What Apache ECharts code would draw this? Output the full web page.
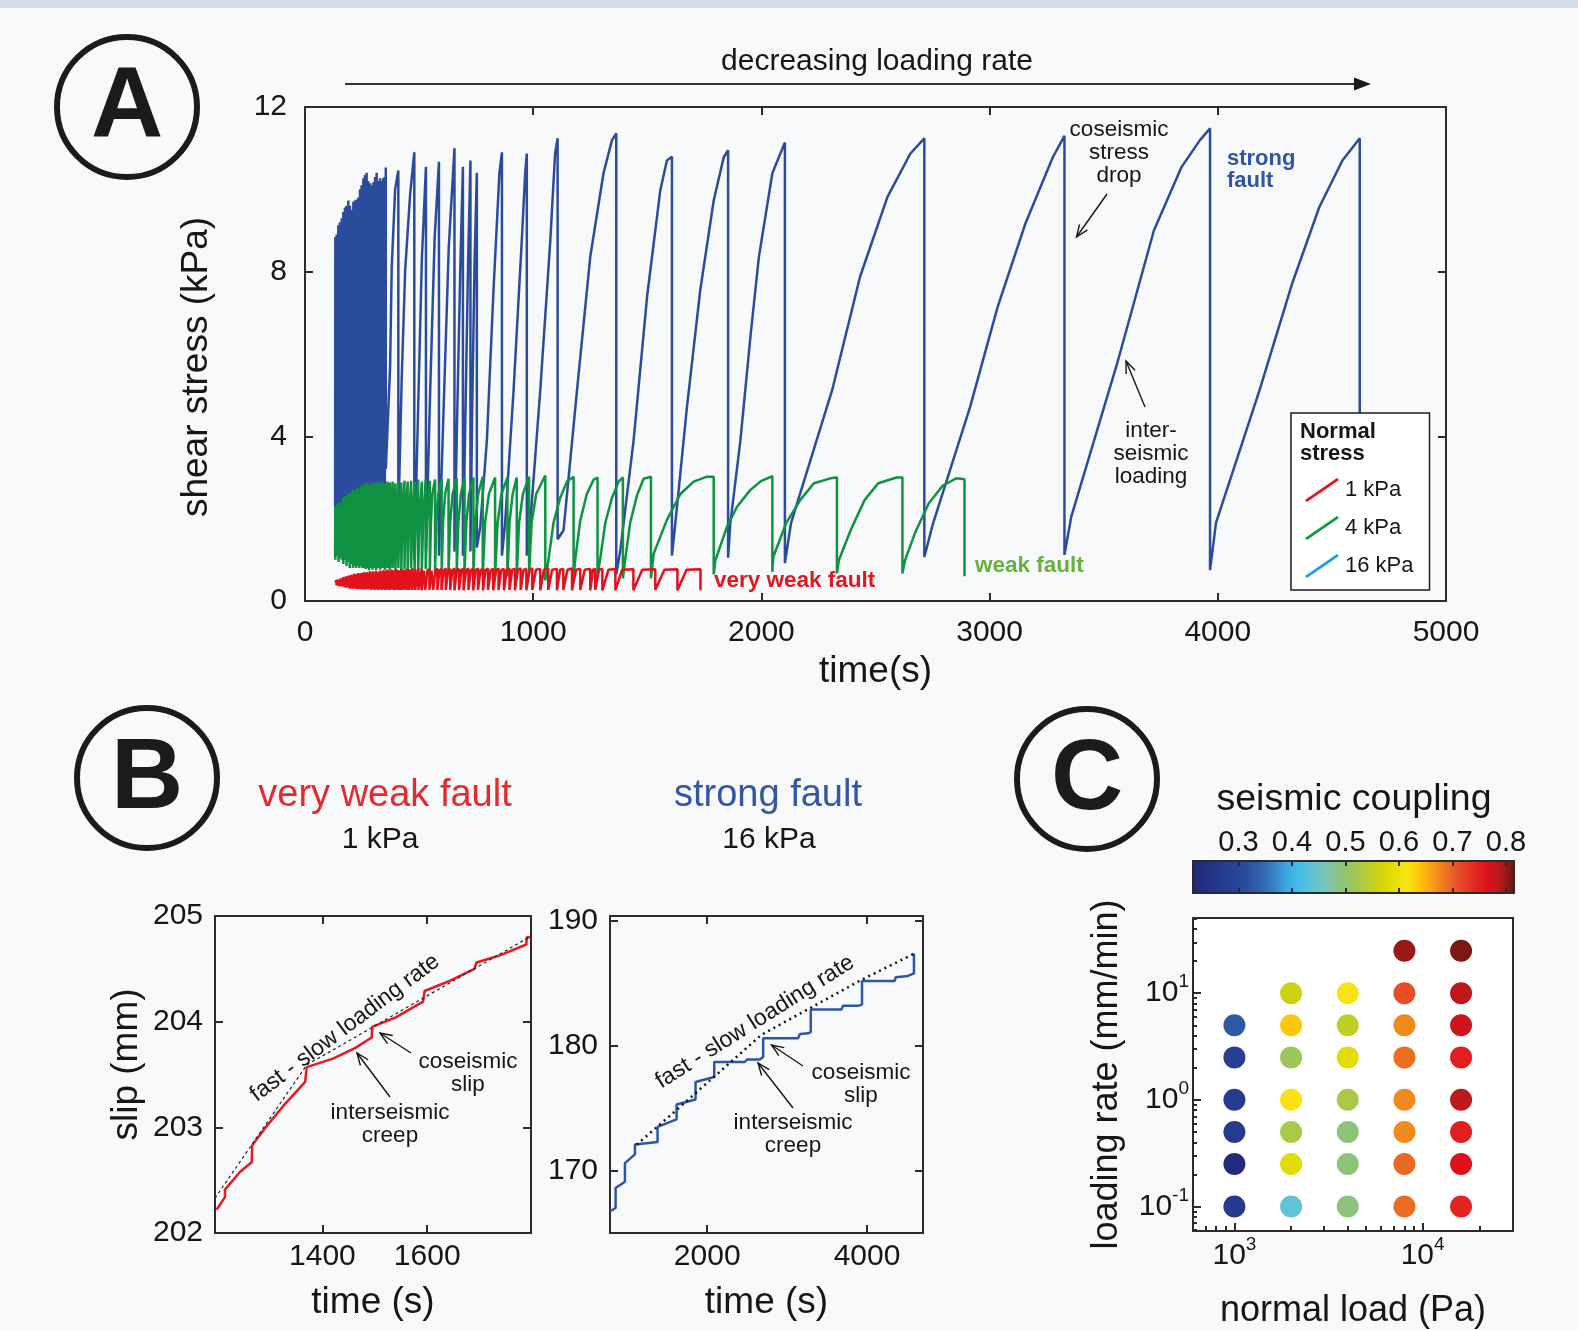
<!DOCTYPE html>
<html>
<head>
<meta charset="utf-8">
<title>Shear stress, slip and seismic coupling</title>
<script src="https://cdn.jsdelivr.net/npm/echarts@6.0.0/dist/echarts.min.js"></script>
<style>
  html, body { margin: 0; padding: 0; background: #f7f9fb; }
  #chart { width: 1578px; height: 1330px; }
</style>
</head>
<body>
<div id="chart"></div>
<script>
// ---- panel A: shear stress (kPa) vs time (s), one trace per normal stress ----
const stress16kPa = [
  [132,2.3],[133,8.84],[133,1.6],[139,8.9],[139,2.0],[146,9.13],[146,1.4],[153,9.2],[153,2.1],[161,9.3],[161,1.5],
  [168,9.45],[168,2.2],[175,9.56],[175,1.6],[182,9.6],[182,2.0],[190,9.73],[190,1.3],[197,9.6],[197,2.2],[205,9.5],
  [205,1.5],[212,9.7],[212,2.1],[219,9.73],[219,1.4],[226,9.75],[226,2.0],[234,9.8],[234,1.5],[241,10.0],[241,2.2],
  [248,10.1],[248,1.6],[256,10.27],[256,2.0],[263,10.35],[263,1.5],[270,10.4],[270,2.3],[277,10.2],[277,1.6],
  [285,10.15],[285,2.1],[292,10.1],[292,1.5],[300,10.17],[300,2.0],[307,10.3],[307,1.4],[314,10.4],[314,2.2],
  [321,10.2],[321,1.6],[329,10.27],[329,2.0],[336,10.2],[336,1.5],[343,10.27],[343,2.1],[349,10.3],[349,1.7],
  [354,10.53],[354,3.2],[373,5.7],[380,8.1],[395,10.0],[409,10.46],
  [409,2.0],[424,5.45],[439,8.04],[461,9.9],[479,10.9],
  [479,1.0],[495,4.5],[512,8.3],[530,10.55],
  [530,1.2],[548,5.0],[568,8.8],[587,10.67],
  [587,1.1],[607,4.6],[630,8.6],[655,11.0],
  [655,1.2],[668,4.8],[681,8.2],[692,10.55],
  [692,1.1],[703,4.5],[715,8.3],[725,10.7],
  [725,1.2],[733,4.8],[743,8.2],[753,10.4],
  [753,1.3],[768,1.8],[797,3.9],[826,7.55],[852,10.4],[863,10.9],
  [863,1.1],[877,1.9],[914,5.12],[950,8.76],[965,10.4],[972,10.87],
  [972,1.1],[987,1.9],[1031,5.12],[1075,8.76],[1096,10.87],[1107,11.24],
  [1107,1.5],[1133,1.72],[1192,5.12],[1250,8.36],[1308,10.39],[1345,11.19],[1364,11.36],
  [1364,0.65],[1382,1.24],[1440,3.9],[1499,7.39],[1557,9.98],[1586,10.7],[1608,10.79],
  [1608,1.1],[1623,1.9],[1674,4.72],[1732,7.55],[1791,9.73],[1835,10.78],[1854,10.95],
  [1854,1.05],[1864,1.9],[1908,3.9],[1952,6.42],[1989,8.36],[2048,10.39],[2103,11.14],
  [2103,0.92],[2130,1.9],[2310,5.12],[2432,7.87],[2552,9.81],[2653,10.87],[2714,11.24],
  [2714,1.07],[2753,1.9],[2915,4.72],[3035,7.14],[3157,9.17],[3277,10.78],[3328,11.3],
  [3328,1.12],[3358,2.05],[3559,5.77],[3720,9.0],[3841,10.54],[3921,11.19],[3966,11.48],
  [3966,0.75],[3992,1.9],[4183,5.12],[4325,7.7],[4445,9.57],[4546,10.7],[4622,11.24],
  [4622,1.0]
];
const stress4kPa = [
  [132,1.1],[133,2.3],[133,1.0],[140,2.35],[140,1.1],[147,2.3],[147,0.95],[154,2.4],[154,1.05],[161,2.35],[161,1.0],
  [168,2.5],[168,0.9],[175,2.55],[175,1.0],[182,2.5],[182,0.85],[189,2.6],[189,0.95],[196,2.62],[196,0.8],[203,2.6],
  [203,0.9],[210,2.7],[210,0.8],[217,2.65],[217,0.85],[224,2.7],[224,0.8],[231,2.75],[231,0.85],[238,2.7],[238,0.8],
  [245,2.8],[245,0.85],[252,2.75],[252,0.8],[259,2.85],[259,0.8],[266,2.8],[266,0.78],[273,2.86],[273,0.8],
  [280,2.8],[280,0.75],[288,2.86],[288,0.8],[296,2.82],[296,0.76],[304,2.88],[304,0.8],[312,2.85],[312,0.75],
  [320,2.9],[320,0.8],[330,2.86],[330,0.76],[340,2.9],[340,0.8],[350,2.85],[350,0.75],[361,2.9],[361,0.8],
  [372,2.88],[372,0.75],[384,2.9],[384,0.8],[396,2.86],[396,0.75],[409,2.92],[409,0.8],[414,2.0],[422,2.88],
  [422,0.75],[427,2.0],[436,2.92],[436,0.78],[441,2.0],[450,2.9],[450,0.75],[456,2.0],[465,2.92],[465,0.8],
  [471,2.0],[480,2.9],[480,0.75],[486,2.0],[496,2.95],[496,0.78],[502,2.0],[512,2.9],[512,0.76],[518,2.0],
  [529,2.95],[529,0.78],[535,2.0],[547,2.92],
  [547,0.75],[552,1.9],[558,2.6],[570,2.95],
  [570,0.7],[576,1.9],[584,2.6],[599,2.95],
  [599,0.72],[605,1.9],[614,2.6],[629,2.97],
  [629,0.7],[636,1.9],[647,2.6],[665,2.98],
  [665,0.72],[672,1.9],[683,2.6],[699,3.0],
  [699,0.7],[707,1.9],[719,2.6],[738,3.0],
  [738,0.65],[746,1.9],[759,2.6],[779,3.02],
  [779,0.62],[789,1.9],[806,2.6],[833,3.0],
  [833,0.62],[844,1.9],[861,2.6],[887,3.0],
  [887,0.6],[896,1.9],[910,2.6],[928,3.0],
  [928,0.62],[938,1.9],[955,2.6],[982,3.02],
  [982,0.65],[993,1.9],[1013,2.6],[1053,3.05],
  [1053,0.5],[1067,1.0],[1089,1.9],[1118,2.5],[1148,2.9],[1177,3.02],
  [1177,0.56],[1184,1.0],[1206,1.95],[1235,2.6],[1265,2.95],[1282,3.0],
  [1282,0.6],[1293,1.0],[1316,1.9],[1345,2.5],[1374,2.9],[1393,3.0],
  [1393,0.55],[1403,1.0],[1425,1.9],[1455,2.57],[1484,2.97],[1516,3.02],
  [1516,0.55],[1528,1.15],[1586,1.97],[1645,2.6],[1703,2.9],[1762,3.02],[1791,3.02],
  [1791,0.65],[1798,0.98],[1849,1.8],[1893,2.29],[1952,2.7],[2000,2.92],[2048,3.03],
  [2048,0.71],[2052,1.07],[2109,1.9],[2170,2.45],[2230,2.86],[2310,2.99],[2331,3.0],
  [2331,0.67],[2340,1.0],[2391,1.72],[2452,2.45],[2512,2.86],[2592,3.0],[2618,3.0],
  [2618,0.67],[2630,1.0],[2673,1.65],[2733,2.37],[2794,2.8],[2854,2.98],[2890,2.96],
  [2890,0.6]
];
const stress1kPa = [
  [132,0.45],[138,0.5],[138,0.38],[144,0.52],[144,0.4],[150,0.5],[150,0.36],[156,0.55],[156,0.4],[162,0.52],
  [162,0.35],[168,0.58],[168,0.4],[174,0.55],[174,0.33],[180,0.6],[180,0.36],[186,0.58],[186,0.32],[192,0.62],
  [192,0.35],[198,0.6],[198,0.3],[204,0.64],[204,0.33],[210,0.62],[210,0.3],[216,0.66],[216,0.32],[222,0.64],
  [222,0.3],[228,0.66],[228,0.29],[234,0.68],[234,0.31],[240,0.65],[240,0.29],[246,0.68],[246,0.3],[252,0.66],
  [252,0.28],[258,0.7],[258,0.3],[264,0.67],[264,0.28],[270,0.7],[270,0.3],[277,0.68],[277,0.28],[284,0.72],
  [284,0.3],[291,0.7],[291,0.27],[298,0.72],[298,0.3],[305,0.7],[305,0.27],[312,0.73],[312,0.29],[320,0.7],
  [320,0.27],[328,0.74],[328,0.28],[336,0.72],[336,0.27],[344,0.75],[344,0.28],[352,0.73],[352,0.27],[361,0.76],
  [361,0.28],[370,0.74],[370,0.27],[380,0.76],[380,0.28],[390,0.75],[390,0.27],[400,0.77],[400,0.28],[411,0.75],
  [411,0.27],[422,0.78],[422,0.27],[433,0.76],[433,0.28],[445,0.78],[445,0.27],[457,0.77],[457,0.27],[470,0.8],
  [470,0.27],[483,0.78],[483,0.27],[497,0.8],[497,0.27],[511,0.78],
  [511,0.26],[520,0.74],[527,0.78],[527,0.27],[536,0.74],[545,0.78],[545,0.27],[554,0.74],[562,0.78],
  [562,0.27],[571,0.74],[580,0.79],[580,0.27],[589,0.74],[598,0.78],[598,0.27],[608,0.74],[617,0.79],
  [617,0.27],[627,0.75],[636,0.78],[636,0.27],[646,0.75],[655,0.79],[655,0.26],[665,0.75],[675,0.78],
  [675,0.27],[685,0.75],[695,0.79],[695,0.26],[706,0.75],[716,0.79],[716,0.27],[727,0.75],[737,0.78],
  [737,0.26],[748,0.75],[758,0.79],[758,0.27],[769,0.75],[780,0.78],[780,0.26],[791,0.75],[802,0.79],
  [802,0.27],[814,0.75],[825,0.78],[825,0.26],[837,0.75],[848,0.79],[848,0.27],[860,0.75],[872,0.78],
  [872,0.26],[884,0.76],[896,0.79],[896,0.27],[908,0.76],[920,0.78],[920,0.26],[933,0.76],[945,0.79],
  [945,0.27],[958,0.76],[970,0.78],[970,0.26],[984,0.76],[996,0.79],[996,0.27],[1012,0.76],[1031,0.78],
  [1031,0.26],[1047,0.76],[1066,0.79],[1066,0.27],[1083,0.76],[1104,0.78],[1104,0.26],[1118,0.76],[1132,0.78],
  [1132,0.27],[1150,0.76],[1170,0.79],[1170,0.26],[1188,0.76],[1206,0.78],[1206,0.27],[1226,0.76],[1250,0.78],
  [1250,0.26],[1262,0.76],[1272,0.78],[1272,0.27],[1288,0.76],[1303,0.78],[1303,0.26],[1330,0.76],[1360,0.78],
  [1360,0.26],[1390,0.76],[1439,0.77],[1439,0.26],[1478,0.76],[1535,0.77],[1535,0.27],[1575,0.76],[1632,0.77],
  [1632,0.26],[1672,0.76],[1733,0.77],[1733,0.26]
];

// ---- panel B: slip (mm) vs time (s) and the fast/slow loading-rate guide ----
const slip1kPa = [
  [1198,202.22],[1214,202.34],[1214,202.41],[1243,202.58],[1265,202.67],[1266,202.83],[1290,202.99],
  [1325,203.2],[1367,203.43],[1370,203.57],[1420,203.65],[1462,203.75],[1494,203.85],[1495,203.95],
  [1540,204.04],[1592,204.19],[1595,204.29],[1640,204.38],[1690,204.5],[1694,204.56],[1740,204.63],
  [1789,204.73],[1790,204.8],[1797,204.8]
];
const rate1kPa = [[1195,202.33],[1370,203.59],[1795,204.8]];
const slip16kPa = [
  [784,166.74],[854,167.0],[854,168.6],[971,169.1],[971,170.6],[1096,171.3],[1096,172.1],[1379,172.3],
  [1379,173.5],[1617,174.1],[1617,175.3],[1854,175.7],[1854,177.1],[2088,177.5],[2088,178.7],[2471,178.7],
  [2500,178.9],[2658,178.9],[2700,179.1],[2700,180.6],[3137,180.6],[3160,180.95],[3262,181.0],[3296,181.1],
  [3296,182.9],[3679,182.9],[3700,183.2],[3887,183.2],[3937,183.3],[3937,185.2],[4346,185.2],[4360,185.5],
  [4512,185.6],[4587,185.8],[4587,187.4]
];
const rate16kPa = [[1117,172.08],[1596,174.74],[2679,180.88],[3929,185.28],[4596,187.4]];

// ---- panel C: seismic coupling by normal load (Pa) and loading rate (mm/min) ----
const normalLoads = [1000, 2000, 4000, 8000, 16000];
const loadingRates = [25, 10, 5, 2.5, 1, 0.5, 0.25, 0.1];
const coupling = [
  [null, null, null, 0.80, 0.81],
  [null, 0.56, 0.612, 0.712, 0.783],
  [0.33, 0.637, 0.55, 0.675, 0.775],
  [0.28, 0.515, 0.587, 0.69, 0.752],
  [0.27, 0.618, 0.528, 0.675, 0.783],
  [0.27, 0.527, 0.49, 0.675, 0.752],
  [0.225, 0.585, 0.49, 0.695, 0.765],
  [0.267, 0.438, 0.49, 0.692, 0.745]
];
const couplingTicks = [0.3, 0.4, 0.5, 0.6, 0.7, 0.8];
const loadTicks = [3, 4];        // log10(Pa)
const rateTicks = [-1, 0, 1];    // log10(mm/min)
const loadMinor = [700, 800, 900, 2000, 3000, 4000, 5000, 6000, 7000, 8000, 9000, 20000, 30000];
const rateMinor = [0.06, 0.07, 0.08, 0.09, 0.2, 0.3, 0.4, 0.5, 0.6, 0.7, 0.8, 0.9, 2, 3, 4, 5, 6, 7, 8, 9, 20, 30, 40, 50];

const FONT = 'Liberation Sans';
const INK = '#161616';
const AXIS = '#2b2b2b';
const RED = '#e3111c', GREEN = '#0f9242', BLUE = '#2b4c9c';

const couplingPoints = [];
loadingRates.forEach((r, i) => {
  normalLoads.forEach((l, j) => {
    if (coupling[i][j] != null) couplingPoints.push([Math.log10(l), Math.log10(r), coupling[i][j]]);
  });
});

function axis(gridIndex, position, min, max, o) {
  o = o || {};
  const a = {
    type: 'value', gridIndex, position, min, max, z: o.z || 0,
    axisLine: {show: o.line !== false, onZero: false, lineStyle: {color: AXIS, width: 2}},
    axisTick: {show: o.ticks !== false, inside: true, length: o.tickLen || 8, lineStyle: {color: AXIS, width: 2}},
    axisLabel: {show: false},
    splitLine: {show: false}
  };
  if (o.interval) a.interval = o.interval;
  if (o.tickValues) a.axisTick.customValues = o.tickValues;
  if (o.labels) {
    a.axisLabel = {show: true, color: INK, fontFamily: FONT, fontSize: o.fontSize || 30, margin: o.margin,
      formatter: o.formatter || (v => String(v))};
    if (o.labelValues) a.axisLabel.customValues = o.labelValues;
    if (o.rich) a.axisLabel.rich = o.rich;
  }
  if (o.name) {
    a.name = o.name; a.nameLocation = 'middle'; a.nameGap = o.nameGap;
    a.nameTextStyle = {fontSize: o.nameSize || 37, color: INK, fontFamily: FONT};
    if (o.namePad) a.nameTextStyle.padding = o.namePad;
  }
  return a;
}

const pow10 = v => '10{s|' + String(v) + '}';
const supRich = {s: {fontSize: 19, fontFamily: FONT, color: INK, padding: [0, 0, 22, 0]}};

function text(x, y, str, o) {
  return {type: 'text', x, y, z: 100, style: Object.assign({
    text: str, fill: INK, fontFamily: FONT, fontSize: 22.5, align: 'center', verticalAlign: 'middle', lineHeight: 23
  }, o || {})};
}
function pointer(x1, y1, x2, y2) {
  const a = Math.atan2(y2 - y1, x2 - x1), L = 13, w = 0.38;
  return [
    {type: 'line', z: 100, shape: {x1, y1, x2, y2}, style: {stroke: INK, lineWidth: 1.4}},
    {type: 'polyline', z: 100, shape: {points: [
      [x2 - L * Math.cos(a - w), y2 - L * Math.sin(a - w)], [x2, y2],
      [x2 - L * Math.cos(a + w), y2 - L * Math.sin(a + w)]]},
      style: {stroke: INK, fill: null, lineWidth: 1.4}}
  ];
}
function badge(cx, cy, letter) {
  return [
    {type: 'circle', z: 100, shape: {cx, cy, r: 70}, style: {fill: 'transparent', stroke: '#1b1b1b', lineWidth: 6}},
    text(cx, cy + 2, letter, {fontSize: 100, fontWeight: 'bold', fill: '#1b1b1b', lineHeight: 100})
  ];
}

const graphics = [
  {type: 'rect', z: 100, shape: {x: 0, y: 0, width: 1578, height: 8}, style: {fill: '#d6dde8'}},
  ...badge(127, 107, 'A'), ...badge(147, 778, 'B'), ...badge(1087, 779, 'C'),
  {type: 'line', z: 100, shape: {x1: 345, y1: 84, x2: 1358, y2: 84}, style: {stroke: '#333', lineWidth: 2}},
  {type: 'polygon', z: 100, shape: {points: [[1354, 77.5], [1371, 84], [1354, 90.5]]}, style: {fill: '#1a1a1a'}},
  text(877, 62, 'decreasing loading rate', {fontSize: 30, lineHeight: 30}),
  text(1119, 153, 'coseismic\nstress\ndrop'),
  ...pointer(1107, 194, 1076.5, 237),
  text(1151, 454, 'inter-\nseismic\nloading'),
  ...pointer(1145, 407, 1126, 361),
  text(1227, 170, 'strong\nfault', {align: 'left', fontWeight: 'bold', fill: '#2f55a4', fontSize: 22, lineHeight: 22}),
  text(975, 566, 'weak fault', {align: 'left', fontWeight: 'bold', fill: '#67b23c', fontSize: 22.5}),
  text(714, 581, 'very weak fault', {align: 'left', fontWeight: 'bold', fill: '#e3171e', fontSize: 22.5}),
  text(1300, 443, 'Normal\nstress', {align: 'left', fontWeight: 'bold', fontSize: 22, lineHeight: 22.5}),
  text(385, 796, 'very weak fault', {fontSize: 38, fill: '#e8282d', lineHeight: 38}),
  text(380, 840, '1 kPa', {fontSize: 30, lineHeight: 30}),
  text(768, 796, 'strong fault', {fontSize: 38, fill: '#3157a5', lineHeight: 38}),
  text(769, 840, '16 kPa', {fontSize: 30, lineHeight: 30}),
  Object.assign(text(345, 1028, 'fast - slow loading rate', {fontSize: 23}), {rotation: 0.644}),
  text(468, 1073, 'coseismic\nslip'),
  text(390, 1124, 'interseismic\ncreep'),
  ...pointer(411, 1053, 380, 1033),
  ...pointer(390, 1097, 357, 1053),
  Object.assign(text(755, 1022, 'fast - slow loading rate', {fontSize: 23}), {rotation: 0.564}),
  text(861, 1084, 'coseismic\nslip'),
  text(793, 1134, 'interseismic\ncreep'),
  ...pointer(803, 1066, 771.5, 1045),
  ...pointer(793, 1108, 758, 1063),
  text(1354, 800, 'seismic coupling', {fontSize: 37.5, lineHeight: 38})
];

const option = {
  animation: false,
  backgroundColor: '#f7f9fb',
  textStyle: {fontFamily: FONT},
  grid: [
    {left: 305, top: 107, width: 1141, height: 494},
    {left: 215, top: 916, width: 316, height: 317},
    {left: 610, top: 916, width: 313, height: 317},
    {left: 1193, top: 918, width: 320, height: 320, show: true, backgroundColor: '#ffffff', borderWidth: 0},
    {left: 1193, top: 861, width: 321, height: 32}
  ],
  xAxis: [
    axis(0, 'bottom', 0, 5000, {interval: 1000, labels: true, margin: 17, name: 'time(s)', nameGap: 52}),
    axis(0, 'top', 0, 5000, {interval: 1000}),
    axis(1, 'bottom', 1195, 1798, {tickValues: [1400, 1600], labels: true, labelValues: [1400, 1600], margin: 9, name: 'time (s)', nameGap: 51}),
    axis(1, 'top', 1195, 1798, {tickValues: [1400, 1600]}),
    axis(2, 'bottom', 784, 4700, {tickValues: [2000, 4000], labels: true, labelValues: [2000, 4000], margin: 9, name: 'time (s)', nameGap: 51}),
    axis(2, 'top', 784, 4700, {tickValues: [2000, 4000]}),
    axis(3, 'bottom', 2.78, 4.48, {tickValues: loadTicks, labels: true, labelValues: loadTicks, formatter: pow10, rich: supRich, margin: 4, name: 'normal load (Pa)', nameGap: 62, nameSize: 36}),
    axis(3, 'bottom', 2.78, 4.48, {line: false, tickLen: 5, tickValues: loadMinor.map(Math.log10)}),
    axis(3, 'top', 2.78, 4.48, {ticks: false}),
    axis(4, 'top', 0.215, 0.815, {z: 10, tickLen: 5, tickValues: couplingTicks, labels: true, labelValues: couplingTicks, formatter: v => v.toFixed(1), fontSize: 29, margin: 4}),
    axis(4, 'bottom', 0.215, 0.815, {z: 10, tickLen: 5, tickValues: couplingTicks})
  ],
  yAxis: [
    axis(0, 'left', 0, 12, {interval: 4, labels: true, margin: 18, name: 'shear stress (kPa)', nameGap: 90, namePad: [0, 26, 0, 0]}),
    axis(0, 'right', 0, 12, {interval: 4}),
    axis(1, 'left', 202, 205, {interval: 1, labels: true, margin: 12, name: 'slip (mm)', nameGap: 70, namePad: [0, 0, 0, 20]}),
    axis(1, 'right', 202, 205, {interval: 1}),
    axis(2, 'left', 165, 190.4, {tickValues: [170, 180, 190], labels: true, labelValues: [170, 180, 190], margin: 12}),
    axis(2, 'right', 165, 190.4, {tickValues: [170, 180, 190]}),
    axis(3, 'left', -1.23, 1.705, {tickValues: rateTicks, labels: true, labelValues: rateTicks, formatter: pow10, rich: supRich, margin: 4, name: 'loading rate (mm/min)', nameGap: 68, nameSize: 36}),
    axis(3, 'left', -1.23, 1.705, {line: false, tickLen: 4, tickValues: rateMinor.map(Math.log10)}),
    axis(3, 'right', -1.23, 1.705, {ticks: false}),
    axis(4, 'left', 0, 1, {z: 10, ticks: false}),
    axis(4, 'right', 0, 1, {z: 10, ticks: false})
  ],
  legend: {
    orient: 'vertical', left: 1291, top: 413, selectedMode: false,
    padding: [65, 16, 12, 14], itemGap: 14, itemWidth: 36, itemHeight: 24,
    backgroundColor: '#ffffff', borderColor: '#1b1b1b', borderWidth: 1.5, borderRadius: 0,
    icon: 'path://M0,22 L32,0 L34,2 L2,24 Z',
    textStyle: {fontSize: 22, color: INK, fontFamily: FONT},
    data: [
      {name: '1 kPa', itemStyle: {color: '#e3141d'}},
      {name: '4 kPa', itemStyle: {color: '#129a44'}},
      {name: '16 kPa', itemStyle: {color: '#1ea0dc'}}
    ]
  },
  visualMap: {
    type: 'continuous', seriesIndex: 7, dimension: 2,
    min: 0.215, max: 0.815, orient: 'horizontal', left: 1193, top: 861,
    itemWidth: 32, itemHeight: 321, padding: 0, calculable: false, hoverLink: false,
    textStyle: {color: 'rgba(0,0,0,0)'}, formatter: () => '',
    inRange: {color: [
      '#222977', '#232f80', '#243a8c', '#274397', '#2b4e9e', '#3061a9', '#3a7fc2', '#3aa9e3', '#46bde8',
      '#63c3d2', '#7ec6b6', '#8cc47a', '#9ec65a', '#b7cc36', '#cfd40a', '#e6de04', '#fbe518', '#fcc40a',
      '#f49a1a', '#ec6f20', '#e64a28', '#e42a24', '#dd111b', '#b41a1a', '#6e1711'
    ]}
  },
  series: [
    {name: '16 kPa', type: 'line', xAxisIndex: 0, yAxisIndex: 0, data: stress16kPa, showSymbol: false, symbol: 'none',
      lineStyle: {color: BLUE, width: 2.5}, itemStyle: {color: BLUE}},
    {name: '4 kPa', type: 'line', xAxisIndex: 0, yAxisIndex: 0, data: stress4kPa, showSymbol: false, symbol: 'none',
      lineStyle: {color: GREEN, width: 2.5}, itemStyle: {color: GREEN}},
    {name: '1 kPa', type: 'line', xAxisIndex: 0, yAxisIndex: 0, data: stress1kPa, showSymbol: false, symbol: 'none',
      lineStyle: {color: RED, width: 2.5}, itemStyle: {color: RED}},
    {name: 'slip 1 kPa', type: 'line', xAxisIndex: 2, yAxisIndex: 2, data: slip1kPa, symbol: 'none',
      lineStyle: {color: '#e8191f', width: 2.5}},
    {name: 'rate 1 kPa', type: 'line', xAxisIndex: 2, yAxisIndex: 2, data: rate1kPa, symbol: 'none',
      lineStyle: {color: '#222', width: 1.2, type: [3, 3]}},
    {name: 'slip 16 kPa', type: 'line', xAxisIndex: 4, yAxisIndex: 4, data: slip16kPa, symbol: 'none',
      lineStyle: {color: '#2e55a5', width: 2.5}},
    {name: 'rate 16 kPa', type: 'line', xAxisIndex: 4, yAxisIndex: 4, data: rate16kPa, symbol: 'none',
      lineStyle: {color: '#111', width: 2.5, type: [2, 4]}},
    {name: 'seismic coupling', type: 'scatter', xAxisIndex: 6, yAxisIndex: 6, data: couplingPoints,
      symbolSize: 22, itemStyle: {opacity: 1}}
  ],
  graphic: graphics
};

const chart = echarts.init(document.getElementById('chart'), null, {renderer: 'canvas'});
chart.setOption(option);
</script>
</body>
</html>
